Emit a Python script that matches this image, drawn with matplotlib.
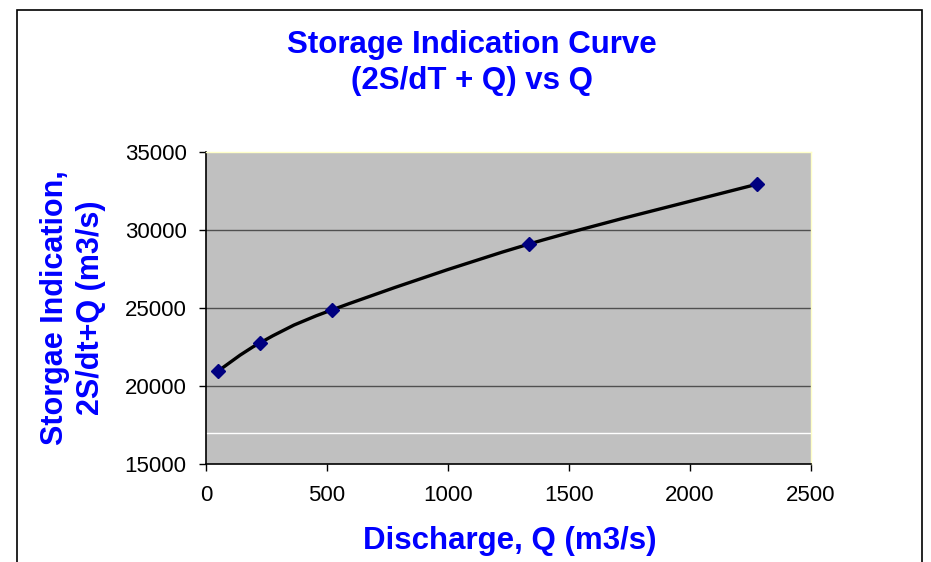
import matplotlib
matplotlib.use("Agg")
import matplotlib.pyplot as plt
from matplotlib.patches import Rectangle, PathPatch
from matplotlib.path import Path

discharge = [50, 223, 519, 1335, 2276]
storage_indication = [20960, 22760, 24870, 29100, 32930]
x_ticks = [0, 500, 1000, 1500, 2000, 2500]
y_ticks = [15000, 20000, 25000, 30000, 35000]

plt.rcParams['font.family'] = ['Liberation Sans', 'DejaVu Sans']

W, H = 931, 562
fig = plt.figure(figsize=(W / 100, H / 100), dpi=100)
ax = fig.add_axes([206 / W, 1 - 464 / H, (811 - 206) / W, (464 - 152) / H])
ax.set_facecolor('#C0C0C0')

for yv in [20000, 25000, 30000]:
    ax.axhline(yv, color='#505050', lw=1.0, zorder=1)
ax.axhline(17000, color='white', lw=1.0, zorder=1)

# Smoothed line (Excel-style): cubic Bezier segments through the data points
pts = list(zip(discharge, storage_indication))
verts = [pts[0]]
codes = [Path.MOVETO]
n = len(pts)
t = 1 / 6
for i in range(n - 1):
    p0 = pts[i - 1] if i > 0 else pts[i]
    p1 = pts[i]
    p2 = pts[i + 1]
    p3 = pts[i + 2] if i + 2 < n else pts[i + 1]
    c1 = (p1[0] + (p2[0] - p0[0]) * t, p1[1] + (p2[1] - p0[1]) * t)
    c2 = (p2[0] - (p3[0] - p1[0]) * t, p2[1] - (p3[1] - p1[1]) * t)
    verts += [c1, c2, p2]
    codes += [Path.CURVE4] * 3
ax.add_patch(PathPatch(Path(verts, codes), facecolor='none', edgecolor='black',
                       lw=2.4, zorder=3, capstyle='round', joinstyle='round'))
ax.plot(discharge, storage_indication, ls='none', marker='D', ms=7,
        color='#000080', zorder=4)

ax.set_xlim(0, 2500)
ax.set_ylim(15000, 35000)
ax.set_xticks(x_ticks)
ax.set_yticks(y_ticks)
ax.tick_params(axis='both', labelsize=16, direction='out', length=5, width=1, color='black')
ax.tick_params(axis='y', pad=9)
ax.tick_params(axis='x', pad=10)

for s in ['left', 'bottom']:
    ax.spines[s].set_color('black')
    ax.spines[s].set_linewidth(1.2)
for s in ['top', 'right']:
    ax.spines[s].set_color('#FFFFC8')
    ax.spines[s].set_linewidth(1.0)

blue = '#0000FF'
fig.text(472 / W, 1 - 45 / H, 'Storage Indication Curve', ha='center', va='center',
         fontsize=22.5, fontweight='bold', color=blue)
fig.text(472 / W, 1 - 81 / H, '(2S/dT + Q) vs Q', ha='center', va='center',
         fontsize=22.5, fontweight='bold', color=blue)
fig.text(510 / W, 1 - 541 / H, 'Discharge, Q (m3/s)', ha='center', va='center',
         fontsize=22.5, fontweight='bold', color=blue)
fig.text(73 / W, 1 - 308 / H, 'Storgae Indication,\n2S/dt+Q (m3/s)', ha='center', va='center',
         rotation=90, fontsize=22, fontweight='bold', color=blue, linespacing=1.3,
         multialignment='center')

fig.patches.append(Rectangle((17 / W, -0.05), (922 - 17) / W, 1.05 - 10 / H,
                             transform=fig.transFigure, fill=False,
                             edgecolor='black', lw=1.2))

fig.savefig('out.png', dpi=100)
